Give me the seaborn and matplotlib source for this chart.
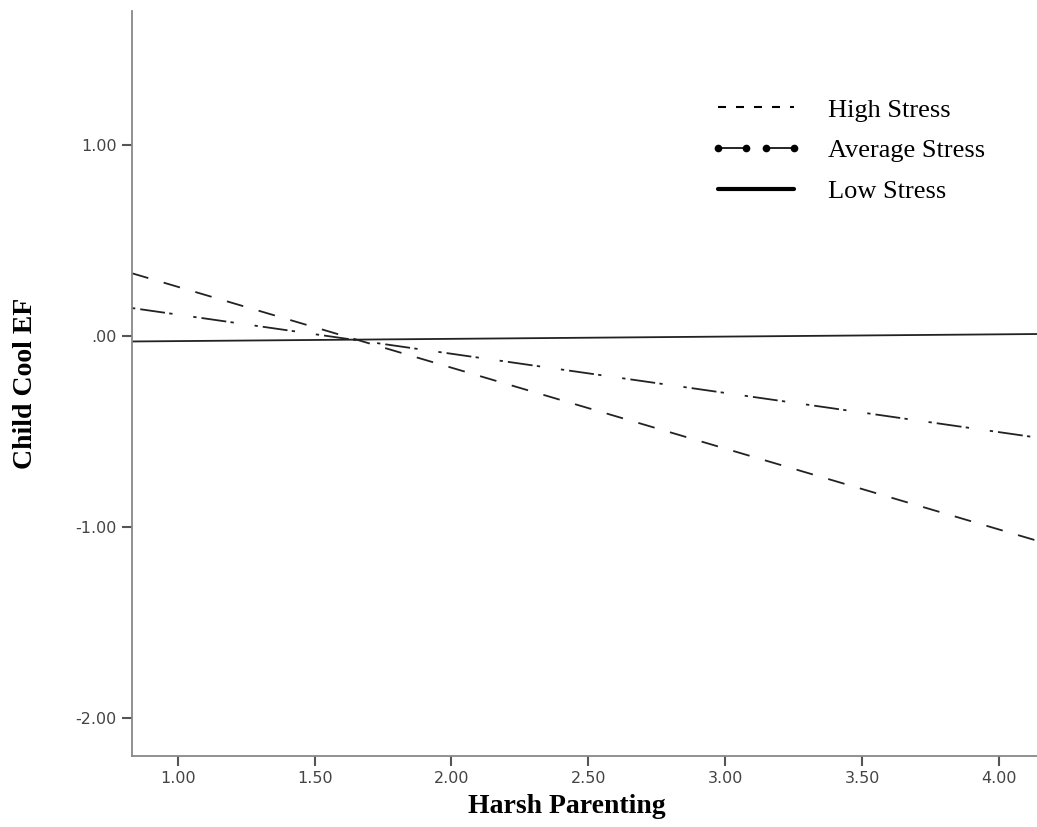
import numpy as np
import pandas as pd
import seaborn as sns
import matplotlib.pyplot as plt
from matplotlib.lines import Line2D
from matplotlib.legend_handler import HandlerTuple

# endpoints of the simple slopes
harsh = [0.833, 4.139]
high_stress = [0.327, -1.073]
avg_stress = [0.145, -0.533]
low_stress = [-0.030, 0.009]
groups = ['High Stress', 'Average Stress', 'Low Stress']

df = pd.DataFrame({
    'Harsh Parenting': harsh * 3,
    'Child Cool EF': high_stress + avg_stress + low_stress,
    'group': [g for g in groups for _ in harsh],
})

sns.set_style('ticks')
plt.rcParams['font.family'] = ['DejaVu Sans']

fig = plt.figure(figsize=(10.37, 8.27), dpi=100)
ax = fig.add_axes([132 / 1037, 71 / 827, 905 / 1037, 745 / 827])

lw = 1.3  # points
px = 1 / 1.389 / lw  # dash lengths given in pixels
dashes = {
    'High Stress': (17 * px, 16 * px),
    'Average Stress': (3.3 * px, 5 * px, 25 * px, 4.3 * px, 3.3 * px, 21 * px),
    'Low Stress': '',
}
sns.lineplot(data=df, x='Harsh Parenting', y='Child Cool EF', hue='group',
             style='group', dashes=dashes, palette=['#222222'] * 3,
             linewidth=lw, legend=False, ax=ax)

ax.set_xlim(0.833, 4.139)
ax.set_ylim(-2.2, 1.70)
ax.set_xticks([1.0, 1.5, 2.0, 2.5, 3.0, 3.5, 4.0])
ax.set_xticklabels(['1.00', '1.50', '2.00', '2.50', '3.00', '3.50', '4.00'])
ax.set_yticks([-2.0, -1.0, 0.0, 1.0])
ax.set_yticklabels(['-2.00', '-1.00', '.00', '1.00'])
ax.tick_params(length=7, width=1.5, color='#555555', labelcolor='#444444',
               labelsize=11.5, pad=4)

for side in ['top', 'right']:
    ax.spines[side].set_visible(False)
for side in ['left', 'bottom']:
    ax.spines[side].set_color('#888888')
    ax.spines[side].set_linewidth(1.3)

ax.set_xlabel('Harsh Parenting', family='Liberation Serif', fontweight='bold',
              fontsize=20, color='black')
ax.set_ylabel('Child Cool EF', family='Liberation Serif', fontweight='bold',
              fontsize=20, color='black')
ax.xaxis.set_label_coords(0.481, -0.051)
ax.yaxis.set_label_coords(-0.104, 0.5)

# legend drawn like the original key
h_high = Line2D([], [], color='black', lw=1.5, dashes=(3.84, 4.8))
seg = dict(color='black', lw=1.2, marker='o', markersize=4.5)
h_avg = (Line2D([], [], **seg), Line2D([], [], **seg))
h_low = Line2D([], [], color='black', lw=3)
leg = ax.legend([h_high, h_avg, h_low], groups, loc='upper left',
                bbox_to_anchor=(0.612, 0.915), frameon=False, numpoints=2,
                handlelength=3.5, handletextpad=1.0, labelspacing=0.65,
                prop={'family': 'Liberation Serif', 'size': 19},
                labelcolor='black',
                handler_map={tuple: HandlerTuple(ndivide=None, pad=0.15)})

fig.savefig('out.png', dpi=100)
